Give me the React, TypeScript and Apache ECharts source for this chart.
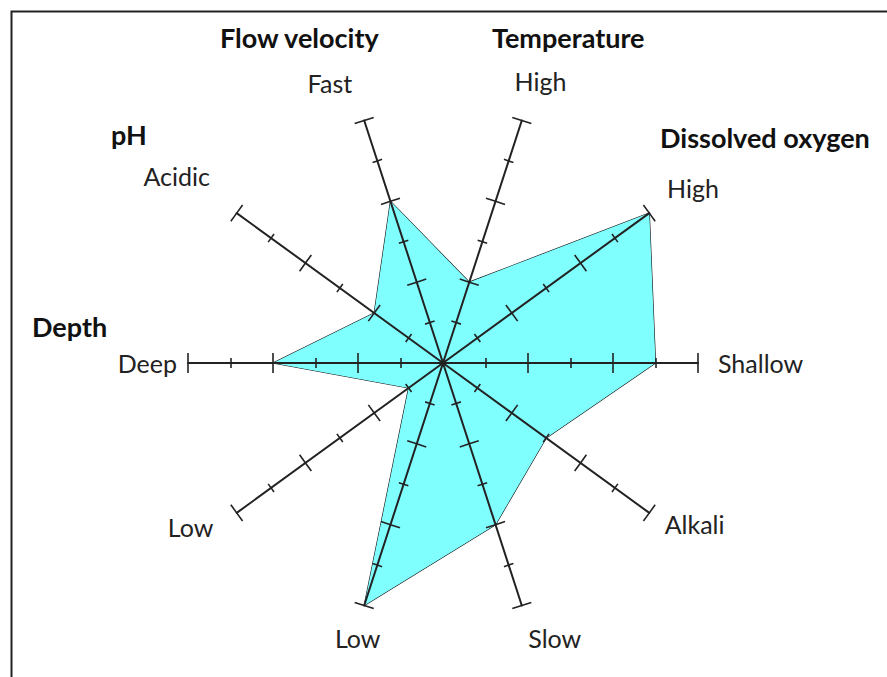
import React, { useEffect, useRef } from 'react';
import * as echarts from 'echarts';

// Axis end labels, counter-clockwise starting at 3 o'clock
const endLabels = ['Shallow', 'High', 'High', 'Fast', 'Acidic', 'Deep', 'Low', 'Low', 'Slow', 'Alkali'];
// Polygon values on a 0..6 scale
const values = [5, 6, 2, 4, 2, 4, 1, 6, 4, 3];
const axisMin = 0;
const axisMax = 6;
const majorTicks = [2, 4, 6];
const minorTicks = [1, 3, 5];
// Bold factor titles
const groupTitles = ['Depth', 'Dissolved oxygen', 'Temperature', 'Flow velocity', 'pH'];

// --- layout / style (not data) ---
const nameLayout: any[] = [
  { gap: 20, align: 'left', verticalAlign: 'middle' },
  { gap: 22, align: 'left', verticalAlign: 'bottom' },
  { gap: 28, align: 'center', verticalAlign: 'bottom', padding: [0, 0, 0, 20] },
  { gap: 26, align: 'right', verticalAlign: 'bottom', padding: [0, 4, 0, 0] },
  { gap: 33, align: 'right', verticalAlign: 'bottom', padding: [0, 0, 5, 0] },
  { gap: 11, align: 'right', verticalAlign: 'middle' },
  { gap: 24, align: 'right', verticalAlign: 'middle', padding: [10, 4, 0, 0] },
  { gap: 21, align: 'center', verticalAlign: 'top' },
  { gap: 21, align: 'left', verticalAlign: 'top' },
  { gap: 19, align: 'left', verticalAlign: 'middle' },
];
const titlePos = [
  [32, 326],
  [660, 137],
  [492, 37],
  [220, 37],
  [111, 134],
];

const FONT = 'Lato';
const INK = '#222';

export default function App() {
  const ref = useRef<HTMLDivElement>(null);
  useEffect(() => {
    if (!ref.current) return;
    const chart = echarts.init(ref.current, null, { renderer: 'svg' });

    const namedIndicators = endLabels.map((name, i) => {
      const l = nameLayout[i];
      const ts: any = { align: l.align, verticalAlign: l.verticalAlign };
      if (l.padding) ts.padding = l.padding;
      return { name, min: axisMin, max: axisMax, nameGap: l.gap, nameTextStyle: ts };
    });
    const plainIndicators = endLabels.map((name) => ({ name, min: axisMin, max: axisMax }));

    const base: any = {
      center: [443, 363],
      radius: 255,
      startAngle: 0,
      shape: 'polygon',
      splitNumber: 6,
      z: 3,
      splitLine: { show: false },
      splitArea: { show: false },
      axisLabel: { show: false, showMinLabel: false },
    };
    const tickRadar = (ticks: number[], len: number) => ({
      ...base,
      indicator: plainIndicators,
      axisName: { show: false },
      axisLine: { show: false },
      axisTick: { show: true, length: len, customValues: ticks, lineStyle: { color: INK, width: 1.6 } },
    });

    chart.setOption({
      animation: false,
      backgroundColor: '#ffffff',
      radar: [
        {
          ...base,
          indicator: namedIndicators,
          axisName: { show: true, color: INK, fontFamily: FONT, fontSize: 25 },
          axisNameGap: 20,
          axisLine: { show: true, lineStyle: { color: INK, width: 2 } },
          axisTick: { show: true, length: 10, customValues: majorTicks, lineStyle: { color: INK, width: 1.6 } },
        },
        tickRadar(majorTicks, -10),
        tickRadar(minorTicks, 5),
        tickRadar(minorTicks, -5),
      ],
      series: [
        {
          type: 'radar',
          radarIndex: 0,
          z: 2,
          symbol: 'none',
          lineStyle: { color: '#111', width: 1.2 },
          areaStyle: { color: '#80ffff', opacity: 1 },
          data: [{ value: values, name: 'Habitat' }],
        },
      ],
      graphic: [
        {
          type: 'rect',
          shape: { x: 11.5, y: 11.5, width: 1000, height: 1000 },
          style: { fill: 'none', stroke: '#222', lineWidth: 2 },
          silent: true,
        },
        ...groupTitles.map((t, i) => ({
          type: 'text',
          x: titlePos[i][0],
          y: titlePos[i][1],
          style: {
            text: t,
            fontFamily: FONT,
            fontWeight: 'bold',
            fontSize: 27,
            fill: '#111',
            align: 'left',
            verticalAlign: 'middle',
          },
        })),
      ],
    });
    return () => chart.dispose();
  }, []);
  return (
    <div
      ref={ref}
      style={{ position: 'fixed', left: 0, top: 0, width: 887, height: 677, background: '#fff' }}
    />
  );
}
